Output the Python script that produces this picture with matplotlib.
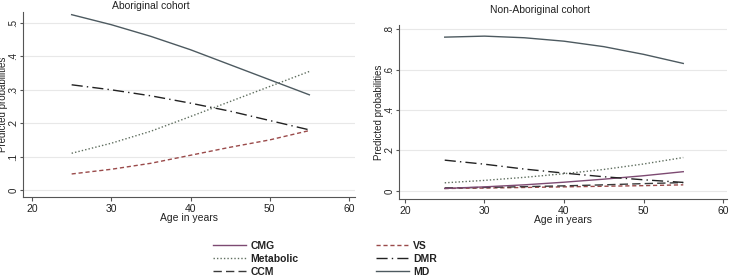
import matplotlib
matplotlib.use("Agg")
import matplotlib.pyplot as plt
from matplotlib.lines import Line2D

plt.rcParams["font.family"] = ["Liberation Sans", "DejaVu Sans"]

# ------------------------------------------------------------
# Data
# ------------------------------------------------------------
age = [25, 30, 35, 40, 45, 50, 55]

# Aboriginal cohort (CMG / CCM sit under the VS line, not visible)
abo_md = [0.525, 0.495, 0.46, 0.42, 0.375, 0.33, 0.285]
abo_dmr = [0.315, 0.300, 0.282, 0.260, 0.236, 0.208, 0.180]
abo_metab = [0.110, 0.140, 0.176, 0.220, 0.265, 0.310, 0.355]
abo_vs = [0.048, 0.062, 0.080, 0.104, 0.128, 0.150, 0.178]

# Non-Aboriginal cohort
non_md = [0.760, 0.765, 0.757, 0.740, 0.713, 0.675, 0.630]
non_dmr = [0.152, 0.132, 0.108, 0.088, 0.070, 0.055, 0.042]
non_metab = [0.040, 0.052, 0.067, 0.085, 0.106, 0.133, 0.165]
non_cmg = [0.012, 0.020, 0.030, 0.043, 0.058, 0.075, 0.095]
non_ccm = [0.015, 0.017, 0.021, 0.025, 0.030, 0.036, 0.041]
non_vs = [0.012, 0.014, 0.017, 0.020, 0.023, 0.026, 0.030]

abo_yticks = [0, 0.1, 0.2, 0.3, 0.4, 0.5]
abo_ylabels = ["0", ".1", ".2", ".3", ".4", ".5"]
non_yticks = [0, 0.2, 0.4, 0.6, 0.8]
non_ylabels = ["0", ".2", ".4", ".6", ".8"]
xticks = [20, 30, 40, 50, 60]

# series styles
STYLES = {
    "CMG": dict(color="#7d4a72", linestyle="-", linewidth=1.0),
    "Metabolic": dict(color="#5f6e5f", linestyle=(0, (1, 1.5)), linewidth=1.0),
    "CCM": dict(color="#3a3a3a", linestyle=(0, (6, 3)), linewidth=1.0),
    "VS": dict(color="#9a4a4a", linestyle=(0, (3, 2)), linewidth=1.0),
    "DMR": dict(color="#222222", linestyle=(0, (8, 3, 1, 3)), linewidth=1.0),
    "MD": dict(color="#4d5a60", linestyle="-", linewidth=1.0),
}

TXT = "#222222"


def style_axes(ax, yticks, ylabels, xlim, ylim, ylab_x):
    ax.set_xlim(*xlim)
    ax.set_ylim(*ylim)
    ax.set_xticks(xticks)
    ax.set_yticks(yticks)
    ax.set_yticklabels(ylabels, rotation=90, va="center")
    ax.grid(axis="y", color="#e8e8e8", linewidth=0.8)
    ax.set_axisbelow(True)
    for s in ("top", "right"):
        ax.spines[s].set_visible(False)
    for s in ("left", "bottom"):
        ax.spines[s].set_color("#555555")
        ax.spines[s].set_linewidth(0.8)
    ax.tick_params(labelsize=7.5, colors="#555555", labelcolor=TXT,
                   length=3, width=0.8, pad=2)
    ax.tick_params(axis="y", labelsize=7, length=2.5, pad=1)
    ax.set_xlabel("Age in years", fontsize=7.5, color=TXT, labelpad=-1)
    ax.set_ylabel("Predicted probabilities", fontsize=7, color=TXT)
    # ylabel anchor is its right edge after rotation
    ax.yaxis.set_label_coords(ylab_x, 0.5)


fig = plt.figure(figsize=(7.31, 2.76), dpi=100)

ax1 = fig.add_axes([23 / 731, 1 - 197 / 276, 332 / 731, 185 / 276])
ax1.plot(age, abo_vs, **STYLES["VS"])
ax1.plot(age, abo_metab, **STYLES["Metabolic"])
ax1.plot(age, abo_dmr, **STYLES["DMR"])
ax1.plot(age, abo_md, **STYLES["MD"])
style_axes(ax1, abo_yticks, abo_ylabels, (18.86, 60.76), (-0.021, 0.533),
           (8.5 - 23) / 332)
fig.text(151 / 731, 1 - 6 / 276, "Aboriginal cohort", fontsize=7.5,
         color=TXT, va="center", ha="center")

ax2 = fig.add_axes([399 / 731, 1 - 199 / 276, 328 / 731, 174 / 276])
ax2.plot(age, non_vs, **STYLES["VS"])
ax2.plot(age, non_ccm, **STYLES["CCM"])
ax2.plot(age, non_cmg, **STYLES["CMG"])
ax2.plot(age, non_metab, **STYLES["Metabolic"])
ax2.plot(age, non_dmr, **STYLES["DMR"])
ax2.plot(age, non_md, **STYLES["MD"])
style_axes(ax2, non_yticks, non_ylabels, (19.25, 60.5), (-0.04, 0.82),
           (384 - 399) / 328)
fig.text(540 / 731, 1 - 10 / 276, "Non-Aboriginal cohort", fontsize=7.5,
         color=TXT, va="center", ha="center")

# legend, two columns
order = ["CMG", "Metabolic", "CCM", "VS", "DMR", "MD"]
handles = [Line2D([0], [0], **STYLES[k]) for k in order]
leg = fig.legend(handles, order, ncol=2, loc="center",
                 bbox_to_anchor=(325 / 731, 1 - 259 / 276),
                 frameon=False, handlelength=3.2,
                 handletextpad=0.4, columnspacing=7.4, labelspacing=0.3,
                 prop=dict(family=["Liberation Sans"], weight="bold", size=7.5))
for t in leg.get_texts():
    t.set_color(TXT)

fig.savefig("out.png", dpi=100)
